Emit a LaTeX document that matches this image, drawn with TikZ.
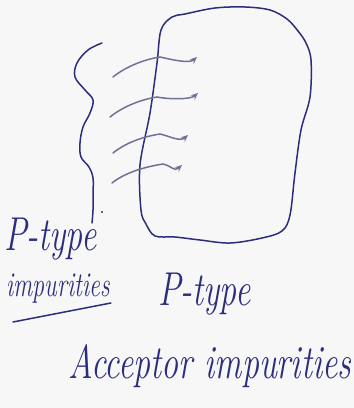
\documentclass[tikz,border=0pt]{standalone}
\usepackage{fontspec}
\usepackage{graphicx}
\usepackage{tikz}
\usetikzlibrary{arrows.meta}
\definecolor{ink}{RGB}{45,45,125}
\definecolor{pale}{RGB}{110,114,150}
\definecolor{paper}{RGB}{247,247,247}

\begin{document}
\begin{tikzpicture}[x=1pt, y=-1pt,
  hand/.style={ink, line width=1.5pt, line cap=round, line join=round},
  arr/.style={pale, line width=1.5pt, line cap=round, -{Stealth[length=7pt, width=6pt]}},
  w/.style={ink, anchor=base west, inner sep=0pt, font=\itshape}]
\fill[paper] (0,0) rectangle (354,408);
\useasboundingbox (0,0) rectangle (354,408);
% crystal
\draw[hand] plot[smooth cycle, tension=0.55] coordinates {(185,14) (215,8) (245,7) (270,10) (287,19) (298,31) (306,43) (311,60) (310,97) (301,130) (295,173) (290,215) (282,231) (262,238) (230,243) (200,240) (175,237) (155,236) (146,224) (141,210) (140,165) (150,113) (157,63) (161,30) (172,17)};
% brace
\draw[hand] plot[smooth, tension=0.6] coordinates {(102,43) (88,50) (77,63) (75,77) (85,90) (93,100) (90,113) (83,127) (80,143) (81,157) (89,167) (93,178) (93,195) (93,210) (92,223)};
\fill[ink] (102,212) circle (1.2pt);
% impurity arrows
\foreach \i/\sx/\sy/\mx/\my/\ex/\ey in {1/113/77/160/57/197/57, 2/110/117/157/97/198/93, 3/113/153/160/134/188/135, 4/112/183/163/164/182/165} {
  \coordinate (s\i) at (\sx,\sy);
  \coordinate (m\i) at (\mx,\my);
  \coordinate (e\i) at (\ex,\ey);
}
\foreach \i in {1,...,4}
  \draw[arr] (s\i) .. controls +(15,-12) and +(-13,2) .. (m\i) .. controls +(9,2) and +(-8,7) .. (e\i);
% labels
\node[w] (ptl) at (4,250) {\fontsize{34}{38}\selectfont\scalebox{1}[1.4]{P-type}};
\node[w] (impl) at (6,296) {\fontsize{24}{28}\selectfont\scalebox{1}[1.45]{impurities}};
\draw[hand] ([shift={(7,26)}]impl.base west) -- ([shift={(1,7)}]impl.base east);
\node[w] (ptr) at (158,305) {\fontsize{34}{38}\selectfont\scalebox{1}[1.4]{P-type}};
\node[w] (acc) at (68,378) {\fontsize{34}{38}\selectfont\scalebox{1}[1.4]{Acceptor impurities}};
\end{tikzpicture}
\end{document}
